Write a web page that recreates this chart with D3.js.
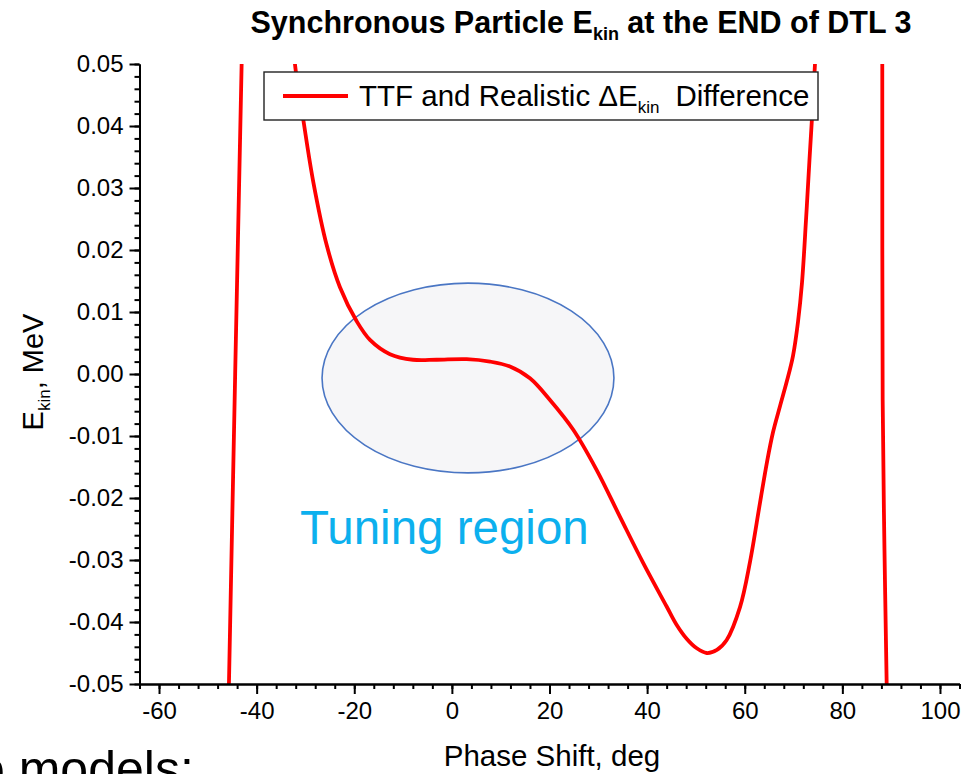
<!DOCTYPE html>
<html>
<head>
<meta charset="utf-8">
<script src="https://cdn.jsdelivr.net/npm/d3@7"></script>
<style>
  html, body { margin: 0; padding: 0; background: #ffffff; }
  svg { display: block; font-family: "Liberation Sans", Arial, sans-serif; }
</style>
</head>
<body>
<svg id="chart" width="970" height="774"></svg>
<script>
// Difference between TTF and realistic field model, energy gain of the synchronous particle
const leftBranchPhase = [-45.8, -44.4, -42.94];
const leftBranchE     = [-0.055, 0.0, 0.055];

const mainBranchPhase = [-32.6, -32.15, -30.44, -28.40, -25.65, -22.93, -19.50, -16.78, -12.68, -7.97,
                         -3.12, 3.03, 7.81, 11.90, 16.00, 20.10, 24.87, 29.67, 34.42, 39.21,
                         44.00, 46.00, 48.10, 50.10, 52.20, 54.30, 56.30, 59.03, 61.08, 63.12,
                         64.56, 65.79, 67.22, 68.65, 69.88, 70.91, 71.73, 72.55, 73.26, 73.88,
                         74.39, 74.60];
const mainBranchE     = [0.0560, 0.0500, 0.0410, 0.0310, 0.0208, 0.0140, 0.0085, 0.0055, 0.0032, 0.0023,
                         0.0023, 0.0024, 0.0020, 0.0012, -0.0007, -0.0042, -0.0090, -0.0155, -0.0230, -0.0305,
                         -0.0375, -0.0404, -0.0427, -0.0442, -0.0450, -0.0445, -0.0429, -0.0376, -0.0303, -0.0208,
                         -0.0142, -0.0094, -0.0052, -0.0011, 0.0029, 0.0084, 0.0147, 0.0248, 0.0345, 0.0426,
                         0.0500, 0.0539];

const rightBranchPhase = [88.15, 88.18, 88.26, 88.63, 89.08, 89.15];
const rightBranchE     = [0.056, 0.050, -0.0042, -0.0284, -0.050, -0.055];

const xTickValues = [-60, -40, -20, 0, 20, 40, 60, 80, 100];
const xTickLabels = ["-60", "-40", "-20", "0", "20", "40", "60", "80", "100"];
const yTickValues = [-0.05, -0.04, -0.03, -0.02, -0.01, 0.00, 0.01, 0.02, 0.03, 0.04, 0.05];
const yTickLabels = ["-0.05", "-0.04", "-0.03", "-0.02", "-0.01", "0.00", "0.01", "0.02", "0.03", "0.04", "0.05"];

// Highlighted tuning window (centre and half-widths in data units)
const tuningCenter = [3.3, -0.00065];
const tuningHalf   = [29.9, 0.0153];

const svg = d3.select("#chart");

const x = d3.scaleLinear().domain([-64, 104]).range([139.5, 959.5]);
const y = d3.scaleLinear().domain([-0.05, 0.05]).range([684, 64]);

const zip = (a, b) => a.map((v, i) => [v, b[i]]);
const branches = [
  zip(leftBranchPhase, leftBranchE),
  zip(mainBranchPhase, mainBranchE),
  zip(rightBranchPhase, rightBranchE)
];

// Plot clip
svg.append("defs").append("clipPath").attr("id", "plotClip")
  .append("rect")
  .attr("x", x.range()[0]).attr("y", y.range()[1])
  .attr("width", x.range()[1] - x.range()[0])
  .attr("height", y.range()[0] - y.range()[1]);

// Tuning region ellipse
svg.append("ellipse")
  .attr("cx", x(tuningCenter[0]))
  .attr("cy", y(tuningCenter[1]))
  .attr("rx", x(tuningCenter[0] + tuningHalf[0]) - x(tuningCenter[0]))
  .attr("ry", y(tuningCenter[1] - tuningHalf[1]) - y(tuningCenter[1]))
  .attr("fill", "#f6f6f8")
  .attr("stroke", "#4a76c4")
  .attr("stroke-width", 1.6);

svg.append("text")
  .attr("x", 300).attr("y", 544)
  .attr("font-size", 47.5)
  .attr("fill", "#0cb0ee")
  .text("Tuning region");

// Curve
const line = d3.line()
  .x(d => x(d[0]))
  .y(d => y(d[1]))
  .curve(d3.curveCatmullRom.alpha(0.5));

svg.append("g").attr("clip-path", "url(#plotClip)")
  .selectAll("path")
  .data(branches)
  .join("path")
  .attr("d", line)
  .attr("fill", "none")
  .attr("stroke", "#ff0000")
  .attr("stroke-width", 3.8)
  .attr("stroke-linejoin", "round");

// Axes
const axisStyle = g => {
  g.select(".domain").attr("stroke", "#000").attr("stroke-width", 2);
  g.selectAll(".tick line").attr("stroke", "#000").attr("stroke-width", 2);
  g.selectAll(".tick text").attr("fill", "#000").attr("font-size", 24)
    .attr("font-family", "'Liberation Sans', Arial, sans-serif");
};

const xMinor = d3.range(-64, 104.001, 4);
const yMinor = d3.range(-50, 50.001, 2).map(v => v / 1000);

svg.append("g")
  .attr("transform", `translate(0,${y.range()[0]})`)
  .call(d3.axisBottom(x).tickValues(xMinor).tickSize(5).tickSizeOuter(0).tickFormat(""))
  .call(axisStyle);

svg.append("g")
  .attr("transform", `translate(${x.range()[0]},0)`)
  .call(d3.axisLeft(y).tickValues(yMinor).tickSize(5).tickSizeOuter(0).tickFormat(""))
  .call(axisStyle);

svg.append("g")
  .attr("transform", `translate(0,${y.range()[0]})`)
  .call(d3.axisBottom(x).tickValues(xTickValues).tickSize(10).tickSizeOuter(0).tickPadding(8)
    .tickFormat((d, i) => xTickLabels[i]))
  .call(axisStyle);

svg.append("g")
  .attr("transform", `translate(${x.range()[0]},0)`)
  .call(d3.axisLeft(y).tickValues(yTickValues).tickSize(10).tickSizeOuter(0).tickPadding(6)
    .tickFormat((d, i) => yTickLabels[i]))
  .call(axisStyle);

// Axis titles
svg.append("text")
  .attr("x", 552).attr("y", 766)
  .attr("text-anchor", "middle")
  .attr("font-size", 29.5)
  .text("Phase Shift, deg");

const yTitle = svg.append("text")
  .attr("transform", "translate(43,372) rotate(-90)")
  .attr("text-anchor", "middle")
  .attr("font-size", 29);
yTitle.append("tspan").text("E");
yTitle.append("tspan").attr("font-size", 17).attr("dy", 7).text("kin");
yTitle.append("tspan").attr("dy", -7).text(", MeV");

// Title
const title = svg.append("text")
  .attr("x", 581).attr("y", 33)
  .attr("text-anchor", "middle")
  .attr("font-size", 30.5)
  .attr("font-weight", "bold");
title.append("tspan").text("Synchronous Particle E");
title.append("tspan").attr("font-size", 18).attr("dy", 7).text("kin");
title.append("tspan").attr("dy", -7).text(" at the END of DTL 3");

// Legend
const legend = svg.append("g");
legend.append("rect")
  .attr("x", 264).attr("y", 72).attr("width", 554).attr("height", 48)
  .attr("fill", "#ffffff").attr("stroke", "#222").attr("stroke-width", 1.4);
legend.append("line")
  .attr("x1", 283).attr("x2", 348).attr("y1", 96).attr("y2", 96)
  .attr("stroke", "#ff0000").attr("stroke-width", 3.8);
const legText = legend.append("text")
  .attr("x", 359).attr("y", 106)
  .attr("font-size", 29.5);
legText.append("tspan").text("TTF and Realistic \u0394E");
legText.append("tspan").attr("font-size", 17).attr("dy", 7).text("kin");
legText.append("tspan").attr("dy", -7).attr("dx", 16).text("Difference");

// Slide text running below the chart (bottom edge of the slide)
svg.append("text")
  .attr("x", -23).attr("y", 786)
  .attr("font-size", 50)
  .text("o models:");
</script>
</body>
</html>
